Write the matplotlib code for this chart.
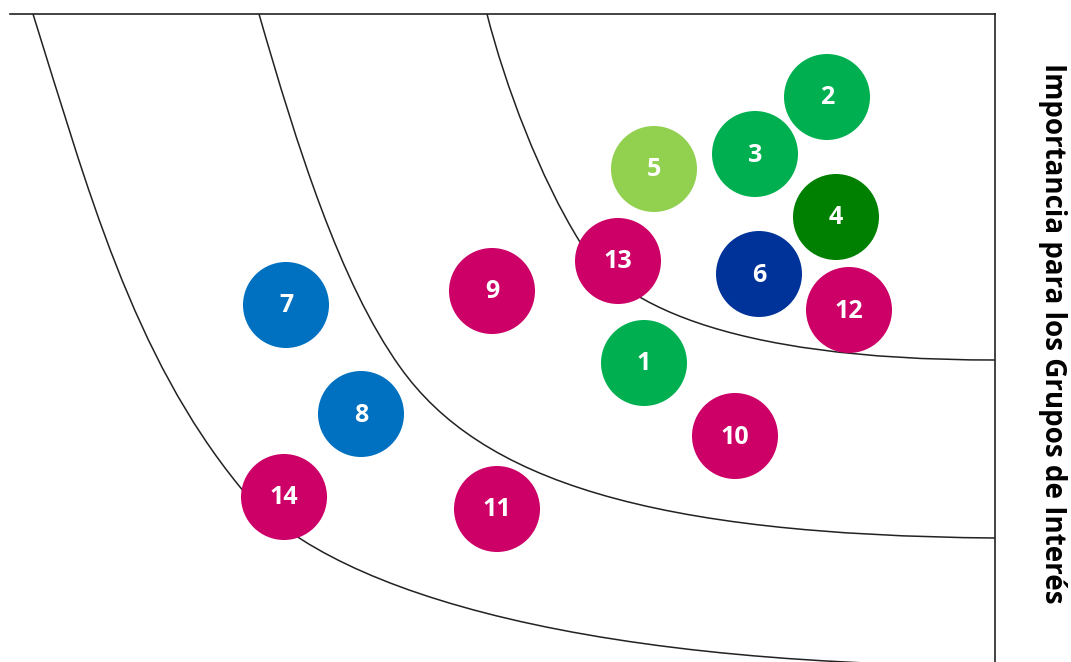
import matplotlib.pyplot as plt
from matplotlib.path import Path
from matplotlib.patches import PathPatch

# materiality matrix, axis units ~ pixels of the original picture
topics = ['1', '2', '3', '4', '5', '6', '7', '8', '9', '10', '11', '12', '13', '14']
impact = [644, 827, 755, 836, 654, 759, 286, 361, 492, 735, 497, 849, 618, 284]
importance = [363, 97, 154, 217, 169, 274, 305, 414, 291, 436, 509, 310, 261, 497]
colors = ['#00B050', '#00B050', '#00B050', '#008000', '#92D050', '#003399', '#0070C0',
          '#0070C0', '#CC0066', '#CC0066', '#CC0066', '#CC0066', '#CC0066', '#CC0066']

# zone boundaries, two cubic bezier pieces each
boundaries = [
    [(33, 14), (87, 186), (132, 355), (240, 487), (321, 586), (560, 664), (995, 666)],
    [(259, 14), (297, 146), (340, 283), (400, 367), (480, 480), (650, 535), (995, 538)],
    [(487, 14), (505, 85), (540, 178), (580, 242), (615, 300), (720, 360), (995, 360)],
]
codes = [Path.MOVETO] + [Path.CURVE4] * 6

fig = plt.figure(figsize=(10.71, 6.62), dpi=100)
ax = fig.add_axes([0, 0, 1, 1])
ax.set_xlim(0, 1071)
ax.set_ylim(662, 0)
ax.axis('off')

for pts in boundaries:
    ax.add_patch(PathPatch(Path(pts, codes), fill=False, lw=1.1,
                           edgecolor='#222222', zorder=1))

ax.plot([10, 995], [14, 14], color='#222222', lw=1.2, zorder=1)
ax.plot([995, 995], [14, 662], color='#222222', lw=1.2, zorder=1)

# radius 43 px -> marker size in points^2
d = 2 * 43 * 72 / 100
ax.scatter(impact, importance, s=d ** 2, c=colors, edgecolors='none', zorder=2)
for t, x, y in zip(topics, impact, importance):
    ax.text(x, y + 1, t, color='white', fontsize=18, fontweight='bold',
            family='Open Sans', ha='center', va='center', zorder=3)

ax.text(1052, 333, 'Importancia para los Grupos de Interés', rotation=-90,
        fontsize=20, fontweight='bold', family='Open Sans', ha='center', va='center')

fig.savefig('out.png', dpi=100)
